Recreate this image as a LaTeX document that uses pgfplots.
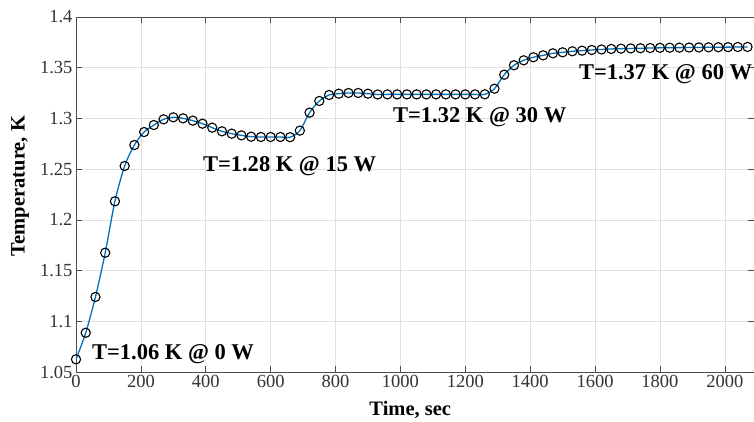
\documentclass[border=0pt]{standalone}
\usepackage{pgfplots}
\pgfplotsset{compat=1.18}
\usepackage{fontspec}
\setmainfont{Liberation Serif}
\definecolor{mblue}{rgb}{0,0.447,0.741}

\begin{document}
\begin{tikzpicture}
\begin{axis}[
    scale only axis,
    width=678pt, height=355pt,
    xmin=0, xmax=2090,
    ymin=1.05, ymax=1.4,
    xtick={0,200,400,600,800,1000,1200,1400,1600,1800,2000},
    ytick={1.05,1.1,1.15,1.2,1.25,1.3,1.35,1.4},
    grid=major,
    grid style={black!12, line width=0.6pt},
    tick align=inside,
    major tick length=6pt,
    every tick/.style={black!70, line width=0.6pt},
    axis line style={black!70, line width=0.8pt},
    tick label style={font=\fontsize{18.5}{18}\selectfont, black!80},
    /pgf/number format/assume math mode=true,
    /pgf/number format/1000 sep={},
    xlabel={Time, sec},
    ylabel={Temperature, K},
    label style={font=\fontsize{20.5}{20}\selectfont\bfseries},
    xlabel style={at={(axis description cs:0.493,0)}, anchor=base, yshift=-43pt},
    ylabel style={at={(axis description cs:0,0.524)}, anchor=center, yshift=56pt},
]
\addplot[mblue, line width=1.3pt, smooth, mark=o, mark size=4.6pt,
    mark options={black, line width=1.1pt, solid}]
    coordinates {
        (0, 1.0625) (30, 1.0887) (60, 1.1240) (90, 1.1676) (120, 1.2183)
        (150, 1.2531) (180, 1.2738) (210, 1.2866) (240, 1.2935) (270, 1.2991)
        (300, 1.3011) (330, 1.3001) (360, 1.2978) (390, 1.2948) (420, 1.2909)
        (450, 1.2873) (480, 1.2850) (510, 1.2833) (540, 1.2820) (570, 1.2817)
        (600, 1.2817) (630, 1.2817) (660, 1.2815) (690, 1.2880) (720, 1.3057)
        (750, 1.3172) (780, 1.3231) (810, 1.3244) (840, 1.3251) (870, 1.3251)
        (900, 1.3244) (930, 1.3236) (960, 1.3237) (990, 1.3237) (1020, 1.3237)
        (1050, 1.3237) (1080, 1.3237) (1110, 1.3237) (1140, 1.3237) (1170, 1.3237)
        (1200, 1.3237) (1230, 1.3237) (1260, 1.3238) (1290, 1.3293) (1320, 1.3431)
        (1350, 1.3524) (1380, 1.3573) (1410, 1.3603) (1440, 1.3622) (1470, 1.3642)
        (1500, 1.3652) (1530, 1.3662) (1560, 1.3668) (1590, 1.3675) (1620, 1.3680)
        (1650, 1.3685) (1680, 1.3688) (1710, 1.3690) (1740, 1.3692) (1770, 1.3694)
        (1800, 1.3696) (1830, 1.3697) (1860, 1.3698) (1890, 1.3699) (1920, 1.3700)
        (1950, 1.3701) (1980, 1.3702) (2010, 1.3703) (2040, 1.3704) (2070, 1.3705)
    };
\node[anchor=base west, inner sep=0pt, font=\fontsize{22.5}{22}\selectfont\bfseries]
    at (axis cs:49,1.0628) {T=1.06 K @ 0 W};
\node[anchor=base west, inner sep=0pt, font=\fontsize{22.5}{22}\selectfont\bfseries]
    at (axis cs:391,1.2472) {T=1.28 K @ 15 W};
\node[anchor=base west, inner sep=0pt, font=\fontsize{22.5}{22}\selectfont\bfseries]
    at (axis cs:977,1.2955) {T=1.32 K @ 30 W};
\node[anchor=base west, inner sep=0pt, font=\fontsize{22.5}{22}\selectfont\bfseries]
    at (axis cs:1550,1.3386) {T=1.37 K @ 60 W};
\coordinate (bl) at (rel axis cs:0,0);
\coordinate (tr) at (rel axis cs:1,1);
\end{axis}
\pgfresetboundingbox
\path[use as bounding box] ([xshift=-76pt,yshift=-49pt]bl) rectangle ([yshift=17pt]tr);
\end{tikzpicture}
\end{document}
